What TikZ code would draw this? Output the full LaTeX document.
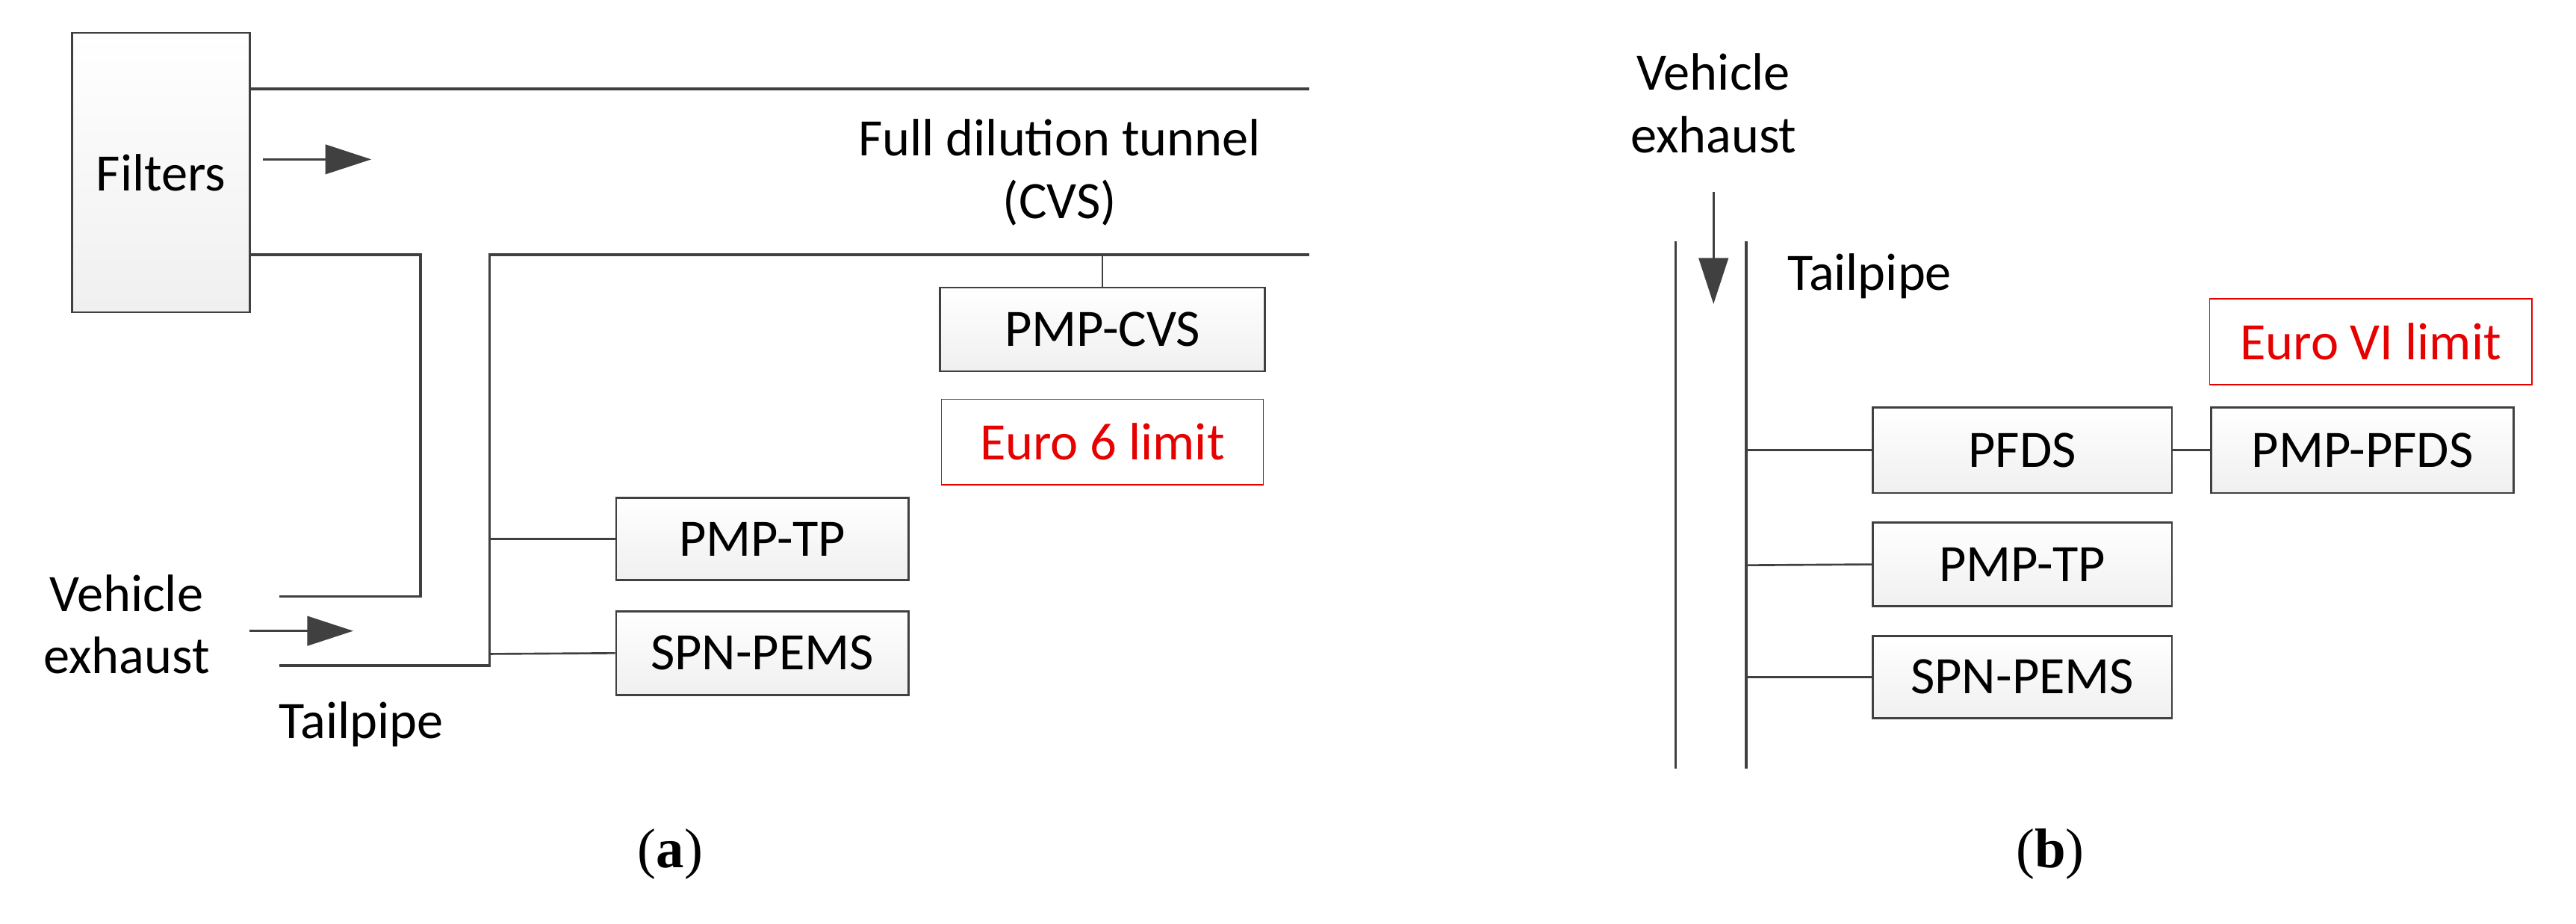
\documentclass[tikz,border=0pt]{standalone}
\usepackage{fontspec}
\setmainfont{Carlito}
\newfontfamily\capfont{Liberation Serif}
\usetikzlibrary{arrows.meta,positioning}
\definecolor{linegray}{RGB}{64,64,64}
\definecolor{eured}{RGB}{230,0,0}
\begin{document}
\begin{tikzpicture}
	[x=0.5pt, y=-0.5pt, font=\fontsize{16}{19}\selectfont,
	unit/.style = {rectangle, draw=linegray, semithick, top color=white, bottom color=gray!12, inner sep=0},
	limit/.style = {rectangle, draw=eured, text=eured, inner sep=0, minimum width=98pt, minimum height=26pt},
	pipe/.style = {linegray, thick},
	tap/.style = {linegray, semithick},
	flow/.style = {-{Triangle[length=14pt,width=9pt]}, linegray, semithick},
	caption/.style = {font=\capfont\fontsize{17}{20}\selectfont}]
	\useasboundingbox (0,0) rectangle (1568,562);
	% (a) full dilution tunnel
	\node (filters) [unit, minimum width=54pt, minimum height=85pt] at (98,105) {Filters};
	\node (tunnel) [align=center] at (645,105) {Full dilution tunnel\\(CVS)};
	\node (cvs) [unit, minimum width=99pt, minimum height=25.5pt] at (671,200.5) {PMP-CVS};
	\node (euro6) [limit] at (671,269) {Euro 6 limit};
	\node (tpa) [unit, minimum width=89pt, minimum height=25pt] at (464,328) {PMP-TP};
	\node (pemsa) [unit, minimum width=89pt, minimum height=25.5pt] at (464,397.5) {SPN-PEMS};
	\node (exha) [align=center] at (77,380) {Vehicle\\exhaust};
	\node (pipea) at (220,441) {Tailpipe};
	\node (capa) [caption] at (408,520) {(\textbf{a})};
	\coordinate (topend) at (797,54);
	\coordinate (tunend) at (797,155);
	\coordinate (airin) at (170,363);
	\coordinate (exin) at (170,405);
	\draw [pipe] (filters.east |- topend) -- (topend);
	\draw [pipe] (filters.east |- 0,155) -- (256,155) |- (airin);
	\draw [pipe] (tunend) -- (298,155) |- (exin);
	\draw [tap] (cvs.north |- tunend) -- (cvs.north);
	\draw [tap] (298,328) -- (tpa.west);
	\draw [tap] (298,398) -- (pemsa.west);
	\coordinate (fa1) at (160,97);  \coordinate (fa2) at (226,97);
	\coordinate (ea1) at (152,384); \coordinate (ea2) at (215,384);
	\draw [flow] (fa1) -- (fa2);
	\draw [flow] (ea1) -- (ea2);
	% (b) partial flow dilution
	\node (exhb) [align=center] at (1043,63) {Vehicle\\exhaust};
	\node (pipeb) at (1138,168) {Tailpipe};
	\node (euro6b) [limit] at (1443,208) {Euro VI limit};
	\node (pfds) [unit, minimum width=91pt, minimum height=26pt] at (1231,274) {PFDS};
	\node (pmpfds) [unit, minimum width=92pt, minimum height=26pt] at (1438,274) {PMP-PFDS};
	\node (tpb) [unit, minimum width=91pt, minimum height=25.5pt] at (1231,343.5) {PMP-TP};
	\node (pemsb) [unit, minimum width=91pt, minimum height=25pt] at (1231,412) {SPN-PEMS};
	\node (capb) [caption] at (1248,520) {(\textbf{b})};
	\coordinate (wl1) at (1020,147); \coordinate (wl2) at (1020,468);
	\coordinate (wr1) at (1063,147); \coordinate (wr2) at (1063,468);
	\draw [pipe] (wl1) -- (wl2);
	\draw [pipe] (wr1) -- (wr2);
	\coordinate (fb1) at (1043,117); \coordinate (fb2) at (1043,185);
	\draw [flow] (fb1) -- (fb2);
	\draw [tap] (1063,274) -- (pfds.west);
	\draw [tap] (pfds.east) -- (pmpfds.west);
	\draw [tap] (1063,344) -- (tpb.west);
	\draw [tap] (1063,412) -- (pemsb.west);
\end{tikzpicture}
\end{document}
